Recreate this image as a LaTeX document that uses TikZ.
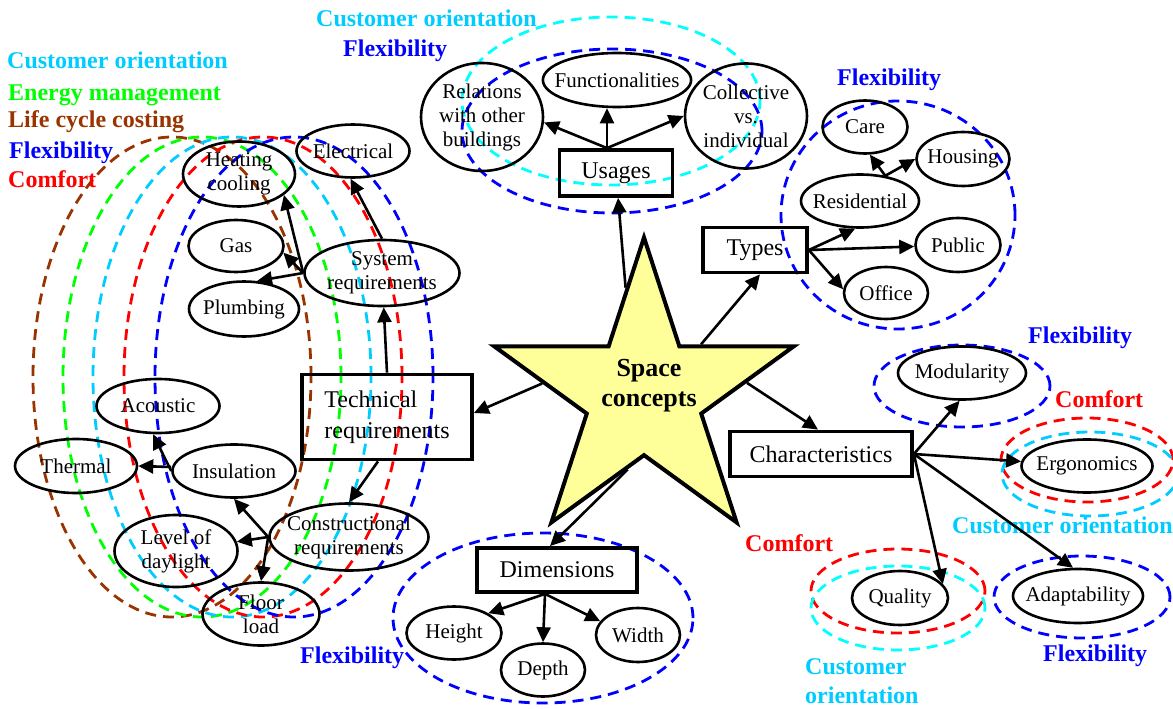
\documentclass[tikz,border=0pt]{standalone}
\usepackage{fontspec}
\setmainfont{Liberation Serif}
\usetikzlibrary{calc}
\usetikzlibrary{arrows.meta,shapes.geometric}
\tikzstyle{el}=[draw,ellipse,line width=2.6pt,inner sep=-10pt,align=center,font={\fontsize{21}{24}\selectfont}]
\tikzstyle{bx}=[draw,rectangle,line width=3.8pt,inner sep=0pt,align=left,font={\fontsize{24}{31}\selectfont}]
\tikzstyle{lab}=[anchor=base west,inner sep=0pt,font={\fontsize{24}{30}\selectfont\bfseries}]
\tikzstyle{dsh}=[dash pattern=on 11pt off 7pt,line width=2.8pt]
\tikzset{sz/.style 2 args={minimum width=#1pt,minimum height=#2pt}}
\definecolor{c}{RGB}{0,204,255}
\definecolor{a}{RGB}{0,255,255}
\definecolor{g}{RGB}{0,255,0}
\definecolor{o}{RGB}{153,51,0}
\definecolor{b}{RGB}{0,0,255}
\definecolor{r}{RGB}{255,0,0}
\definecolor{y}{RGB}{255,255,153}

\begin{document}
\begin{tikzpicture}[-,>={Triangle[length=15pt,width=14pt]},x=1pt,y=-1pt]
\useasboundingbox (0,0) rectangle (1173,709);

\draw[dsh,draw=o] (172,377) ellipse (139pt and 240pt);
\draw[dsh,draw=g] (202,377) ellipse (139pt and 240pt);
\draw[dsh,draw=c] (232,377) ellipse (139pt and 240pt);
\draw[dsh,draw=r] (263,377) ellipse (139pt and 240pt);
\draw[dsh,draw=b] (294,377) ellipse (139pt and 240pt);
\draw[dsh,draw=a] (611,101) ellipse (149pt and 84pt);
\draw[dsh,draw=b] (612,131) ellipse (150pt and 82pt);
\draw[dsh,draw=b] (898,215) ellipse (117pt and 114pt);
\draw[dsh,draw=b] (962,386) ellipse (88pt and 41pt);
\draw[dsh,draw=r] (1087,460) ellipse (86pt and 42pt);
\draw[dsh,draw=c] (1090,474) ellipse (88pt and 42pt);
\draw[dsh,draw=r] (898,591) ellipse (87pt and 42pt);
\draw[dsh,draw=a] (898,608) ellipse (87pt and 42pt);
\draw[dsh,draw=b] (1082,597) ellipse (88pt and 41pt);
\draw[dsh,draw=b] (543,618) ellipse (150pt and 85pt);

\draw node [lab,text=c] (co1) at (7,69) {Customer orientation};
\draw node [lab,text=g] (em1) at (8,100) {Energy management};
\draw node [lab,text=o] (lc1) at (8,128) {Life cycle costing};
\draw node [lab,text=b] (fx1) at (9,158) {Flexibility};
\draw node [lab,text=r] (cf1) at (8,187) {Comfort};
\draw node [lab,text=c] (co2) at (316,27) {Customer orientation};
\draw node [lab,text=b] (fx2) at (343,57) {Flexibility};
\draw node [lab,text=b] (fx3) at (837,85) {Flexibility};
\draw node [lab,text=b] (fx4) at (1028,343) {Flexibility};
\draw node [lab,text=r] (cf2) at (1055,407) {Comfort};
\draw node [lab,text=c] (co3) at (952,533) {Customer orientation};
\draw node [lab,text=r] (cf3) at (745,551) {Comfort};
\draw node [lab,text=c] (co4) at (805,674) {Customer};
\draw node [lab,text=c] (co4') at (805,703) {orientation};
\draw node [lab,text=b] (fx5) at (1043,661) {Flexibility};
\draw node [lab,text=b] (fx6) at (300,663) {Flexibility};

\draw node [star,star points=5,star point ratio=2.618,minimum size=315pt,inner sep=0pt,
  draw,fill=y,line width=4pt,
  label={[align=center,font={\fontsize{26}{30}\selectfont\bfseries},xshift=5pt,yshift=9pt]center:Space\\concepts}] (sc) at (644,395) {};

\draw node [bx,sz={113}{46}] (usg) at (616,173) {Usages};
\draw node [el,sz={122}{108}] (rel) at (482,117) {Relations\\with other\\buildings};
\draw node [el,sz={143}{54}] (fun) at (617,80) {Functionalities};
\draw node [el,sz={122}{105}] (col) at (746,116) {Collective\\vs.\\individual};

\draw node [bx,sz={104}{45}] (typ) at (755,250) {Types};
\draw node [el,sz={85}{53}] (car) at (865,127) {Care};
\draw node [el,sz={93}{54}] (hou) at (963,159) {Housing};
\draw node [el,sz={118}{53}] (res) at (860,201) {Residential};
\draw node [el,sz={85}{54}] (pub) at (958,245) {Public};
\draw node [el,sz={84}{52}] (off) at (886,293) {Office};

\draw node [bx,sz={182}{45}] (cha) at (821,454) {Characteristics};
\draw node [el,sz={128}{53}] (mod) at (962,373) {Modularity};
\draw node [el,sz={131}{53}] (erg) at (1087,466) {Ergonomics};
\draw node [el,sz={96}{54}] (qua) at (900,598) {Quality};
\draw node [el,sz={130}{54}] (ada) at (1078,596) {Adaptability};

\draw node [bx,sz={160}{44}] (dim) at (557,570) {Dimensions};
\draw node [el,sz={95}{53}] (hei) at (454,633) {Height};
\draw node [el,sz={84}{53}] (dep) at (543,670) {Depth};
\draw node [el,sz={84}{54}] (wid) at (638,635) {Width};

\draw node [bx,sz={170}{85}] (tec) at (387,417) {Technical\\requirements};
\draw node [el,sz={155}{66}] (sys) at (382,273) {System\\requirements};
\draw node [el,sz={113}{53}] (ele) at (353,151) {Electrical};
\draw node [el,sz={112}{65}] (hea) at (239,174) {Heating\\cooling};
\draw node [el,sz={95}{52}] (gas) at (236,246) {Gas};
\draw node [el,sz={110}{55}] (plu) at (244,309) {Plumbing};
\draw node [el,sz={123}{54}] (aco) at (158,406) {Acoustic};
\draw node [el,sz={122}{54}] (the) at (76,466) {Thermal};
\draw node [el,sz={123}{53}] (ins) at (234,471) {Insulation};
\draw node [el,sz={123}{72}] (lev) at (176,551) {Level of\\daylight};
\draw node [el,sz={159}{67}] (con) at (349,537) {Constructional\\requirements};
\draw node [el,sz={117}{63}] (flo) at (261,614) {Floor\\load};

\path[->,line width=2.6pt]
 ($(sc.outer point 1)!0.5!(sc.inner point 1)$) edge (usg)
 ($(sc.inner point 5)!0.17!(sc.outer point 5)$) edge ([xshift=5pt]typ.south)
 ($(sc.outer point 5)!0.55!(sc.inner point 4)$) edge ([xshift=-3pt]cha.north)
 ($(sc.outer point 2)!0.56!(sc.inner point 2)$) edge ([yshift=4pt]tec.east)
 ($(sc.inner point 3)!0.17!(sc.outer point 3)$) edge ([xshift=-7pt]dim.north)

 ([xshift=-9pt]usg.north) edge (rel.-5)
 ([xshift=-9pt]usg.north) edge ([xshift=-10pt]fun.south)
 ([xshift=-9pt]usg.north) edge (col.west)

 (typ.east) edge (res.-100)
 (typ.east) edge (pub)
 (typ.east) edge (off.175)
 (res.45) edge (car.-80)
 (res.45) edge (hou.west)

 (cha.east) edge (mod.-95)
 (cha.east) edge (erg)
 (cha.east) edge (ada.100)
 (cha.east) edge (qua.18)

 ([xshift=-12pt]dim.south) edge (hei.30)
 ([xshift=-12pt]dim.south) edge (dep.north)
 ([xshift=-12pt]dim.south) edge (wid.160)

 (tec.north) edge (sys)
 ([xshift=-9pt]tec.south) edge (con.north)
 (sys.west) edge (hea.-25)
 (sys.west) edge (gas.-8)
 (sys.west) edge (plu.65)
 (sys.north) edge (ele.-95)
 (con.west) edge (ins.south)
 (con.west) edge (lev)
 (con.west) edge (flo.north)
 ([yshift=4pt]ins.west) edge (the.east)
 (ins.west) edge (aco.-100)
 ;
\end{tikzpicture}
\end{document}
